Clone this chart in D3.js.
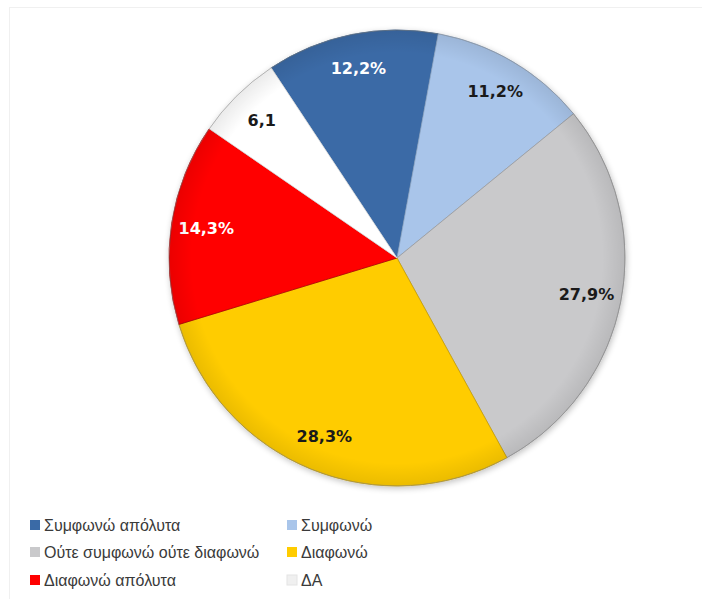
<!DOCTYPE html>
<html>
<head>
<meta charset="utf-8">
<script src="https://cdn.jsdelivr.net/npm/d3@7"></script>
<style>
  html, body { margin: 0; padding: 0; background: #ffffff; }
  svg { display: block; }
</style>
</head>
<body>
<svg id="chart" width="702" height="599"></svg>
<script>
const categories = ["Συμφωνώ απόλυτα", "Συμφωνώ", "Ούτε συμφωνώ ούτε διαφωνώ", "Διαφωνώ", "Διαφωνώ απόλυτα", "ΔΑ"];
const values = [12.2, 11.2, 27.9, 28.3, 14.3, 6.1];
const labels = ["12,2%", "11,2%", "27,9%", "28,3%", "14,3%", "6,1"];
const colors = ["#3a6aa6", "#a9c5ea", "#c9c9cb", "#ffcc00", "#ff0000", "#ffffff"];
const labelColors = ["#ffffff", "#1a1a1a", "#1a1a1a", "#1a1a1a", "#ffffff", "#1a1a1a"];
const strokeColors = ["#2e5583", "#8ea7c6", "#9a9a9c", "#c9a000", "#b00000", "#e0e0e0"];

const svg = d3.select("#chart");
const cx = 397, cy = 258, R = 228;
const startDeg = -33.5;

// faint frame
svg.append("rect").attr("x", 9.5).attr("y", 7.5).attr("width", 720).attr("height", 620)
  .attr("fill", "none").attr("stroke", "#f0f0f0");

const defs = svg.append("defs");
const f = defs.append("filter").attr("id", "shadow").attr("x", "-10%").attr("y", "-10%").attr("width", "120%").attr("height", "120%");
f.append("feGaussianBlur").attr("in", "SourceAlpha").attr("stdDeviation", 3).attr("result", "b");
f.append("feOffset").attr("in", "b").attr("dx", 1).attr("dy", 2).attr("result", "o");
f.append("feComponentTransfer").attr("in", "o").attr("result", "s")
  .append("feFuncA").attr("type", "linear").attr("slope", 0.25);
const m = f.append("feMerge");
m.append("feMergeNode").attr("in", "s");
m.append("feMergeNode").attr("in", "SourceGraphic");

const rg = defs.append("radialGradient").attr("id", "bevel")
  .attr("cx", cx).attr("cy", cy).attr("r", R).attr("gradientUnits", "userSpaceOnUse");
rg.append("stop").attr("offset", "0.9").attr("stop-color", "#000").attr("stop-opacity", 0);
rg.append("stop").attr("offset", "1").attr("stop-color", "#000").attr("stop-opacity", 0.08);

const pie = d3.pie().value(d => d).sort(null)
  .startAngle(startDeg * Math.PI / 180)
  .endAngle((startDeg + 360) * Math.PI / 180);
const arcs = pie(values);
const arc = d3.arc().innerRadius(0).outerRadius(R);
const labelArc = d3.arc().innerRadius(193).outerRadius(193);

const g = svg.append("g").attr("transform", `translate(${cx},${cy})`);
const slices = g.append("g").attr("filter", "url(#shadow)");
slices.selectAll("path").data(arcs).join("path")
  .attr("d", arc)
  .attr("fill", (d, i) => colors[i])
  .attr("stroke", (d, i) => strokeColors[i])
  .attr("stroke-width", 0.8);

svg.append("circle").attr("cx", cx).attr("cy", cy).attr("r", R)
  .attr("fill", "url(#bevel)").attr("stroke", "#8a8a8a").attr("stroke-width", 0.8).attr("stroke-opacity", 0.6);

g.selectAll("text.lbl").data(arcs).join("text")
  .attr("class", "lbl")
  .attr("transform", d => `translate(${labelArc.centroid(d)})`)
  .attr("text-anchor", "middle")
  .attr("dominant-baseline", "central")
  .attr("font-family", "DejaVu Sans, Verdana, sans-serif")
  .attr("font-weight", "bold")
  .attr("font-size", 16)
  .attr("fill", (d, i) => labelColors[i])
  .text((d, i) => labels[i]);

// legend
const legX = [30, 287], legY = [525, 552, 580];
const leg = svg.append("g");
categories.forEach((c, i) => {
  const x = legX[i % 2], y = legY[Math.floor(i / 2)];
  leg.append("rect").attr("x", x).attr("y", y - 5).attr("width", 10).attr("height", 10)
    .attr("fill", colors[i] === "#ffffff" ? "#f0f0f0" : colors[i])
    .attr("stroke", colors[i] === "#ffffff" ? "#e4e4e4" : "none");
  leg.append("text").attr("x", x + 14).attr("y", y)
    .attr("dominant-baseline", "central")
    .attr("font-family", "Liberation Sans, Arial, sans-serif")
    .attr("font-size", 16)
    .attr("fill", "#3a3a3a")
    .text(c);
});
</script>
</body>
</html>
